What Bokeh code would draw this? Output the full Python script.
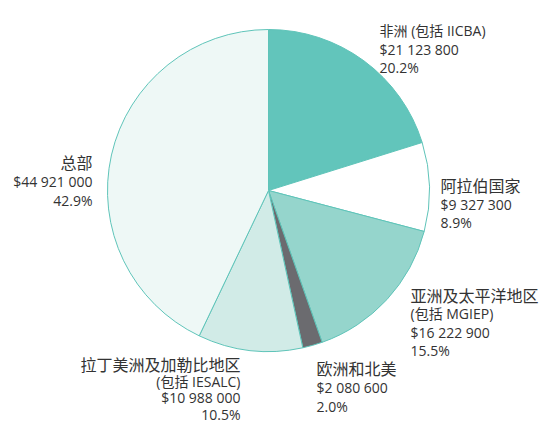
import math
from bokeh.plotting import figure
from bokeh.models import Range1d, ColumnDataSource
from bokeh.core.properties import value
from bokeh.embed import file_html
from bokeh.resources import INLINE

# ---- data ----
regions = ["非洲 (包括 IICBA)", "阿拉伯国家", "亚洲及太平洋地区\n(包括 MGIEP)", "欧洲和北美",
           "拉丁美洲及加勒比地区\n(包括 IESALC)", "总部"]
amounts = [21123800, 9327300, 16222900, 2080600, 10988000, 44921000]
amount_labels = ["$21 123 800", "$9 327 300", "$16 222 900", "$2 080 600", "$10 988 000", "$44 921 000"]
percent_labels = ["20.2%", "8.9%", "15.5%", "2.0%", "10.5%", "42.9%"]

# ---- style ----
colors = ["#62c5bb", "#ffffff", "#95d5cc", "#6b6b6f", "#d1ebe7", "#eef8f6"]
outline = "#5fc4b9"
W, H = 554, 423
CX, CY = 268, 190          # page pixel coords of pie centre
R = 161
# label anchor (page x, first baseline page y, align, line height)
label_pos = [(379, 30, "left", 18.5), (440, 185, "left", 18.5), (410, 295, "left", 18.3),
             (316, 368, "left", 19.0), (240, 364, "right", 16.7), (92, 162, "right", 19.0)]
font = value("Open Sans, 'Noto Sans CJK SC'")
text_color = "#333333"

def py(y):  # page y -> data y (upwards)
    return H - y

def is_pure_cjk(t):
    return all(ord(c) > 0x2E80 for c in t)

p = figure(width=W, height=H, output_backend="svg", toolbar_location=None,
           x_range=Range1d(0, W), y_range=Range1d(0, H),
           min_border=0, outline_line_color=None)
p.axis.visible = False
p.grid.visible = False
p.background_fill_color = "white"
p.border_fill_color = "white"

total = sum(amounts)
starts, ends = [], []
cum = 0
for a in amounts:
    starts.append(math.pi / 2 - 2 * math.pi * cum / total)
    cum += a
    ends.append(math.pi / 2 - 2 * math.pi * cum / total)

src = ColumnDataSource(dict(start=starts, end=ends, color=colors))
p.wedge(x=CX, y=py(CY), radius=R, radius_units="screen", start_angle="start", end_angle="end",
        direction="clock", fill_color="color", line_color=outline, line_width=1, source=src)

xs, ys, ts, aligns, sizes = [], [], [], [], []
for i in range(len(regions)):
    lines = regions[i].split("\n") + [amount_labels[i], percent_labels[i]]
    x0, y0, al, lh = label_pos[i]
    for k, t in enumerate(lines):
        xs.append(x0)
        ys.append(py(y0 + k * lh))
        ts.append(t)
        aligns.append(al)
        sizes.append("16px" if is_pure_cjk(t) else "14px")

tsrc = ColumnDataSource(dict(x=xs, y=ys, text=ts, align=aligns, size=sizes))
p.text(x="x", y="y", text="text", text_align="align", text_baseline="alphabetic",
       text_font=font, text_font_size="size", text_color=text_color, source=tsrc)

open("out.html", "w").write(file_html(p, INLINE))
